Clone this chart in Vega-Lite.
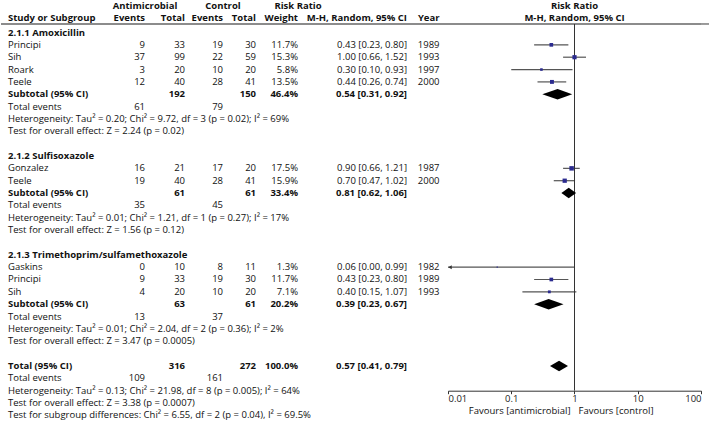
{
 "$schema": "https://vega.github.io/schema/vega-lite/v6.json",
 "padding": 0,
 "spacing": 0,
 "bounds": "flush",
 "config": {"view": {"stroke": null}, "text": {"font": "Open Sans", "fontSize": 9.5, "color": "#111", "baseline": "middle"}, "concat": {"spacing": 0}},
 "datasets": {"t": [
  {"row":0,"kind":"group","label":"2.1.1 Amoxicillin"},
  {"row":1,"kind":"study","label":"Principi","e1":9,"n1":33,"e2":19,"n2":30,"w":11.7,"wt":"11.7%","ci":"0.43 [0.23, 0.80]","year":1989,"rr":0.43,"lo":0.23,"hi":0.80},
  {"row":2,"kind":"study","label":"Sih","e1":37,"n1":99,"e2":22,"n2":59,"w":15.3,"wt":"15.3%","ci":"1.00 [0.66, 1.52]","year":1993,"rr":1.00,"lo":0.66,"hi":1.52},
  {"row":3,"kind":"study","label":"Roark","e1":3,"n1":20,"e2":10,"n2":20,"w":5.8,"wt":"5.8%","ci":"0.30 [0.10, 0.93]","year":1997,"rr":0.30,"lo":0.10,"hi":0.93},
  {"row":4,"kind":"study","label":"Teele","e1":12,"n1":40,"e2":28,"n2":41,"w":13.5,"wt":"13.5%","ci":"0.44 [0.26, 0.74]","year":2000,"rr":0.44,"lo":0.26,"hi":0.74},
  {"row":5,"kind":"subtotal","label":"Subtotal (95% CI)","n1":192,"n2":150,"w":46.4,"wt":"46.4%","ci":"0.54 [0.31, 0.92]","rr":0.54,"lo":0.31,"hi":0.92},
  {"row":6,"kind":"events","label":"Total events","e1":61,"e2":79},
  {"row":7,"kind":"note","label":"Heterogeneity: Tau² = 0.20; Chi² = 9.72, df = 3 (p = 0.02); I² = 69%"},
  {"row":8,"kind":"note","label":"Test for overall effect: Z = 2.24 (p = 0.02)"},
  {"row":10,"kind":"group","label":"2.1.2 Sulfisoxazole"},
  {"row":11,"kind":"study","label":"Gonzalez","e1":16,"n1":21,"e2":17,"n2":20,"w":17.5,"wt":"17.5%","ci":"0.90 [0.66, 1.21]","year":1987,"rr":0.90,"lo":0.66,"hi":1.21},
  {"row":12,"kind":"study","label":"Teele","e1":19,"n1":40,"e2":28,"n2":41,"w":15.9,"wt":"15.9%","ci":"0.70 [0.47, 1.02]","year":2000,"rr":0.70,"lo":0.47,"hi":1.02},
  {"row":13,"kind":"subtotal","label":"Subtotal (95% CI)","n1":61,"n2":61,"w":33.4,"wt":"33.4%","ci":"0.81 [0.62, 1.06]","rr":0.81,"lo":0.62,"hi":1.06},
  {"row":14,"kind":"events","label":"Total events","e1":35,"e2":45},
  {"row":15,"kind":"note","label":"Heterogeneity: Tau² = 0.01; Chi² = 1.21, df = 1 (p = 0.27); I² = 17%"},
  {"row":16,"kind":"note","label":"Test for overall effect: Z = 1.56 (p = 0.12)"},
  {"row":18,"kind":"group","label":"2.1.3 Trimethoprim/sulfamethoxazole"},
  {"row":19,"kind":"study","label":"Gaskins","e1":0,"n1":10,"e2":8,"n2":11,"w":1.3,"wt":"1.3%","ci":"0.06 [0.00, 0.99]","year":1982,"rr":0.06,"lo":0.0042,"hi":0.99},
  {"row":20,"kind":"study","label":"Principi","e1":9,"n1":33,"e2":19,"n2":30,"w":11.7,"wt":"11.7%","ci":"0.43 [0.23, 0.80]","year":1989,"rr":0.43,"lo":0.23,"hi":0.80},
  {"row":21,"kind":"study","label":"Sih","e1":4,"n1":20,"e2":10,"n2":20,"w":7.1,"wt":"7.1%","ci":"0.40 [0.15, 1.07]","year":1993,"rr":0.40,"lo":0.15,"hi":1.07},
  {"row":22,"kind":"subtotal","label":"Subtotal (95% CI)","n1":63,"n2":61,"w":20.2,"wt":"20.2%","ci":"0.39 [0.23, 0.67]","rr":0.39,"lo":0.23,"hi":0.67},
  {"row":23,"kind":"events","label":"Total events","e1":13,"e2":37},
  {"row":24,"kind":"note","label":"Heterogeneity: Tau² = 0.01; Chi² = 2.04, df = 2 (p = 0.36); I² = 2%"},
  {"row":25,"kind":"note","label":"Test for overall effect: Z = 3.47 (p = 0.0005)"},
  {"row":27,"kind":"total","label":"Total (95% CI)","n1":316,"n2":272,"w":100,"wt":"100.0%","ci":"0.57 [0.41, 0.79]","rr":0.57,"lo":0.41,"hi":0.79},
  {"row":28,"kind":"events","label":"Total events","e1":109,"e2":161},
  {"row":29,"kind":"note","label":"Heterogeneity: Tau² = 0.13; Chi² = 21.98, df = 8 (p = 0.005); I² = 64%"},
  {"row":30,"kind":"note","label":"Test for overall effect: Z = 3.38 (p = 0.0007)"},
  {"row":31,"kind":"note","label":"Test for subgroup differences: Chi² = 6.55, df = 2 (p = 0.04), I² = 69.5%"}
 ]},
 "hconcat": [
  {"width": 100, "height": 422, "data": {"name": "t"}, "layer": [
   {"data": {"values": [{}]}, "mark": {"type": "rule", "color": "#666", "strokeWidth": 1.3}, "encoding": {"y": {"datum": -0.69, "type": "quantitative", "scale": {"domain": [-2.551, 31.62], "reverse": true, "nice": false, "zero": false}, "axis": null}}},
   {"data": {"values": [{}]}, "mark": {"type": "text", "text": "Study or Subgroup", "fontWeight": "bold", "align": "left", "dx": 7}, "encoding": {"x": {"value": 0}, "y": {"datum": -1.15, "type": "quantitative", "axis": null}}},
   {"transform": [{"filter": "datum.kind=='group'||datum.kind=='subtotal'||datum.kind=='total'"}], "mark": {"type": "text", "fontWeight": "bold", "align": "left", "dx": 7}, "encoding": {"x": {"value": 0}, "y": {"field": "row", "type": "quantitative", "axis": null}, "text": {"field": "label", "type": "nominal"}}},
   {"transform": [{"filter": "datum.kind=='study'||datum.kind=='events'||datum.kind=='note'"}], "mark": {"type": "text", "align": "left", "dx": 7}, "encoding": {"x": {"value": 0}, "y": {"field": "row", "type": "quantitative", "axis": null}, "text": {"field": "label", "type": "nominal"}}}
  ]},
  {"width": 44, "height": 422, "data": {"name": "t"}, "layer": [
   {"data": {"values": [{}]}, "mark": {"type": "rule", "color": "#666", "strokeWidth": 1.3}, "encoding": {"y": {"datum": -0.69, "type": "quantitative", "scale": {"domain": [-2.551, 31.62], "reverse": true, "nice": false, "zero": false}, "axis": null}}},
   {"data": {"values": [{}]}, "mark": {"type": "text", "text": "Antimicrobial", "fontWeight": "bold", "align": "center"}, "encoding": {"x": {"value": "width"}, "y": {"datum": -2.15, "type": "quantitative", "axis": null}}},
   {"data": {"values": [{}]}, "mark": {"type": "text", "text": "Events", "fontWeight": "bold", "align": "right"}, "encoding": {"x": {"value": "width"}, "y": {"datum": -1.15, "type": "quantitative", "axis": null}}},
   {"transform": [{"filter": "datum.kind=='study'||datum.kind=='events'"}], "mark": {"type": "text", "align": "right"}, "encoding": {"x": {"value": "width"}, "y": {"field": "row", "type": "quantitative", "axis": null}, "text": {"field": "e1", "type": "quantitative", "format": "d"}}}
  ]},
  {"width": 40, "height": 422, "data": {"name": "t"}, "layer": [
   {"data": {"values": [{}]}, "mark": {"type": "rule", "color": "#666", "strokeWidth": 1.3}, "encoding": {"y": {"datum": -0.69, "type": "quantitative", "scale": {"domain": [-2.551, 31.62], "reverse": true, "nice": false, "zero": false}, "axis": null}}},
   {"data": {"values": [{}]}, "mark": {"type": "text", "text": "Total", "fontWeight": "bold", "align": "right"}, "encoding": {"x": {"value": "width"}, "y": {"datum": -1.15, "type": "quantitative", "axis": null}}},
   {"transform": [{"filter": "datum.kind=='study'"}], "mark": {"type": "text", "align": "right"}, "encoding": {"x": {"value": "width"}, "y": {"field": "row", "type": "quantitative", "axis": null}, "text": {"field": "n1", "type": "quantitative", "format": "d"}}},
   {"transform": [{"filter": "datum.kind=='subtotal'||datum.kind=='total'"}], "mark": {"type": "text", "align": "right", "fontWeight": "bold"}, "encoding": {"x": {"value": "width"}, "y": {"field": "row", "type": "quantitative", "axis": null}, "text": {"field": "n1", "type": "quantitative", "format": "d"}}}
  ]},
  {"width": 38, "height": 422, "data": {"name": "t"}, "layer": [
   {"data": {"values": [{}]}, "mark": {"type": "rule", "color": "#666", "strokeWidth": 1.3}, "encoding": {"y": {"datum": -0.69, "type": "quantitative", "scale": {"domain": [-2.551, 31.62], "reverse": true, "nice": false, "zero": false}, "axis": null}}},
   {"data": {"values": [{}]}, "mark": {"type": "text", "text": "Control", "fontWeight": "bold", "align": "center"}, "encoding": {"x": {"value": "width"}, "y": {"datum": -2.15, "type": "quantitative", "axis": null}}},
   {"data": {"values": [{}]}, "mark": {"type": "text", "text": "Events", "fontWeight": "bold", "align": "right"}, "encoding": {"x": {"value": "width"}, "y": {"datum": -1.15, "type": "quantitative", "axis": null}}},
   {"transform": [{"filter": "datum.kind=='study'||datum.kind=='events'"}], "mark": {"type": "text", "align": "right"}, "encoding": {"x": {"value": "width"}, "y": {"field": "row", "type": "quantitative", "axis": null}, "text": {"field": "e2", "type": "quantitative", "format": "d"}}}
  ]},
  {"width": 33, "height": 422, "data": {"name": "t"}, "layer": [
   {"data": {"values": [{}]}, "mark": {"type": "rule", "color": "#666", "strokeWidth": 1.3}, "encoding": {"y": {"datum": -0.69, "type": "quantitative", "scale": {"domain": [-2.551, 31.62], "reverse": true, "nice": false, "zero": false}, "axis": null}}},
   {"data": {"values": [{}]}, "mark": {"type": "text", "text": "Total", "fontWeight": "bold", "align": "right"}, "encoding": {"x": {"value": "width"}, "y": {"datum": -1.15, "type": "quantitative", "axis": null}}},
   {"transform": [{"filter": "datum.kind=='study'"}], "mark": {"type": "text", "align": "right"}, "encoding": {"x": {"value": "width"}, "y": {"field": "row", "type": "quantitative", "axis": null}, "text": {"field": "n2", "type": "quantitative", "format": "d"}}},
   {"transform": [{"filter": "datum.kind=='subtotal'||datum.kind=='total'"}], "mark": {"type": "text", "align": "right", "fontWeight": "bold"}, "encoding": {"x": {"value": "width"}, "y": {"field": "row", "type": "quantitative", "axis": null}, "text": {"field": "n2", "type": "quantitative", "format": "d"}}}
  ]},
  {"width": 42, "height": 422, "data": {"name": "t"}, "layer": [
   {"data": {"values": [{}]}, "mark": {"type": "rule", "color": "#666", "strokeWidth": 1.3}, "encoding": {"y": {"datum": -0.69, "type": "quantitative", "scale": {"domain": [-2.551, 31.62], "reverse": true, "nice": false, "zero": false}, "axis": null}}},
   {"data": {"values": [{}]}, "mark": {"type": "text", "text": "Weight", "fontWeight": "bold", "align": "right"}, "encoding": {"x": {"value": "width"}, "y": {"datum": -1.15, "type": "quantitative", "axis": null}}},
   {"transform": [{"filter": "datum.kind=='study'"}], "mark": {"type": "text", "align": "right"}, "encoding": {"x": {"value": "width"}, "y": {"field": "row", "type": "quantitative", "axis": null}, "text": {"field": "wt", "type": "nominal"}}},
   {"transform": [{"filter": "datum.kind=='subtotal'||datum.kind=='total'"}], "mark": {"type": "text", "align": "right", "fontWeight": "bold"}, "encoding": {"x": {"value": "width"}, "y": {"field": "row", "type": "quantitative", "axis": null}, "text": {"field": "wt", "type": "nominal"}}}
  ]},
  {"width": 109, "height": 422, "data": {"name": "t"}, "layer": [
   {"data": {"values": [{}]}, "mark": {"type": "rule", "color": "#666", "strokeWidth": 1.3}, "encoding": {"y": {"datum": -0.69, "type": "quantitative", "scale": {"domain": [-2.551, 31.62], "reverse": true, "nice": false, "zero": false}, "axis": null}}},
   {"data": {"values": [{}]}, "mark": {"type": "text", "text": "Risk Ratio", "fontWeight": "bold", "align": "center", "x": {"expr": "width/2"}}, "encoding": {"y": {"datum": -2.15, "type": "quantitative", "axis": null}}},
   {"data": {"values": [{}]}, "mark": {"type": "text", "text": "M-H, Random, 95% CI", "fontWeight": "bold", "align": "right"}, "encoding": {"x": {"value": "width"}, "y": {"datum": -1.15, "type": "quantitative", "axis": null}}},
   {"transform": [{"filter": "datum.kind=='study'"}], "mark": {"type": "text", "align": "right"}, "encoding": {"x": {"value": "width"}, "y": {"field": "row", "type": "quantitative", "axis": null}, "text": {"field": "ci", "type": "nominal"}}},
   {"transform": [{"filter": "datum.kind=='subtotal'||datum.kind=='total'"}], "mark": {"type": "text", "align": "right", "fontWeight": "bold"}, "encoding": {"x": {"value": "width"}, "y": {"field": "row", "type": "quantitative", "axis": null}, "text": {"field": "ci", "type": "nominal"}}}
  ]},
  {"width": 41, "height": 422, "data": {"name": "t"}, "layer": [
   {"data": {"values": [{}]}, "mark": {"type": "rule", "color": "#666", "strokeWidth": 1.3}, "encoding": {"y": {"datum": -0.69, "type": "quantitative", "scale": {"domain": [-2.551, 31.62], "reverse": true, "nice": false, "zero": false}, "axis": null}}},
   {"data": {"values": [{}]}, "mark": {"type": "text", "text": "Year", "fontWeight": "bold", "align": "right", "dx": -8.5}, "encoding": {"x": {"value": "width"}, "y": {"datum": -1.15, "type": "quantitative", "axis": null}}},
   {"transform": [{"filter": "datum.kind=='study'"}], "mark": {"type": "text", "align": "right", "dx": -8.5}, "encoding": {"x": {"value": "width"}, "y": {"field": "row", "type": "quantitative", "axis": null}, "text": {"field": "year", "type": "quantitative", "format": "d"}}}
  ]},
  {"width": 253, "height": 422, "data": {"name": "t"}, "layer": [
   {"data": {"values": [{}]}, "mark": {"type": "rule", "color": "#666", "strokeWidth": 1.3}, "encoding": {"y": {"datum": -0.69, "type": "quantitative", "scale": {"domain": [-2.551, 31.62], "reverse": true, "nice": false, "zero": false}, "axis": null}}},
   {"transform": [{"filter": "datum.kind=='study'"}], "mark": {"type": "rule", "color": "#555", "strokeWidth": 1.2}, "encoding": {
     "x": {"field": "lo", "type": "quantitative", "scale": {"type": "log", "domain": [0.01, 100], "clamp": true, "nice": false}, "axis": {"orient": "bottom", "offset": -32.3, "values": [0.01, 0.1, 1, 10, 100], "format": "~g", "title": null, "grid": false, "labelFlush": true, "labelFontSize": 9.5, "labelFont": "Open Sans", "labelColor": "#222", "tickSize": 3, "tickColor": "#333", "domainColor": "#333", "labelPadding": 0, "labelOverlap": false}},
     "x2": {"field": "hi"},
     "y": {"field": "row", "type": "quantitative", "axis": null}}},
   {"data": {"values": [{}]}, "mark": {"type": "text", "text": "Risk Ratio", "fontWeight": "bold", "align": "center"}, "encoding": {"x": {"datum": 1, "type": "quantitative"}, "y": {"datum": -2.15, "type": "quantitative", "axis": null}}},
   {"data": {"values": [{}]}, "mark": {"type": "text", "text": "M-H, Random, 95% CI", "fontWeight": "bold", "align": "center"}, "encoding": {"x": {"datum": 1, "type": "quantitative"}, "y": {"datum": -1.15, "type": "quantitative", "axis": null}}},
   {"data": {"values": [{}]}, "mark": {"type": "rule", "color": "#333", "strokeWidth": 1}, "encoding": {"x": {"datum": 1, "type": "quantitative"}, "y": {"datum": -0.69, "type": "quantitative", "axis": null}, "y2": {"datum": 29.0}}},
   {"transform": [{"filter": "datum.kind=='study'"}], "mark": {"type": "point", "shape": "square", "filled": true, "color": "#2b2b8f", "opacity": 1}, "encoding": {"x": {"field": "rr", "type": "quantitative"}, "y": {"field": "row", "type": "quantitative", "axis": null}, "size": {"field": "w", "type": "quantitative", "scale": {"domain": [0, 17.5], "range": [0, 20]}, "legend": null}}},
   {"transform": [{"filter": "datum.kind=='study' && datum.lo < 0.01"}], "mark": {"type": "point", "shape": "triangle-left", "filled": true, "color": "#333", "opacity": 1, "size": 16, "xOffset": 2}, "encoding": {"x": {"field": "lo", "type": "quantitative"}, "y": {"field": "row", "type": "quantitative", "axis": null}}},
   {"transform": [{"filter": "datum.kind=='subtotal'||datum.kind=='total'"}, {"fold": ["lo", "rr", "hi"], "as": ["k", "v"]}, {"calculate": "datum.k=='rr' ? datum.row-0.42 : datum.row", "as": "top"}, {"calculate": "datum.k=='rr' ? datum.row+0.42 : datum.row", "as": "bot"}], "mark": {"type": "area", "color": "#000", "orient": "vertical", "opacity": 1}, "encoding": {"x": {"field": "v", "type": "quantitative"}, "y": {"field": "top", "type": "quantitative", "axis": null, "stack": null}, "y2": {"field": "bot"}, "detail": {"field": "row", "type": "nominal"}}},
   {"data": {"values": [{}]}, "mark": {"type": "text", "text": "Favours [antimicrobial]", "align": "right", "dx": -4, "fontSize": 9.5}, "encoding": {"x": {"datum": 1, "type": "quantitative"}, "y": {"datum": 30.62, "type": "quantitative", "axis": null}}},
   {"data": {"values": [{}]}, "mark": {"type": "text", "text": "Favours [control]", "align": "left", "dx": 4, "fontSize": 9.5}, "encoding": {"x": {"datum": 1, "type": "quantitative"}, "y": {"datum": 30.62, "type": "quantitative", "axis": null}}}
  ]},
  {"width": 9, "height": 422, "layer": [
   {"data": {"values": [{}]}, "mark": {"type": "rule", "color": "#666", "strokeWidth": 1.3}, "encoding": {"y": {"datum": -0.69, "type": "quantitative", "scale": {"domain": [-2.551, 31.62], "reverse": true, "nice": false, "zero": false}, "axis": null}}}
  ]}
 ]
}
